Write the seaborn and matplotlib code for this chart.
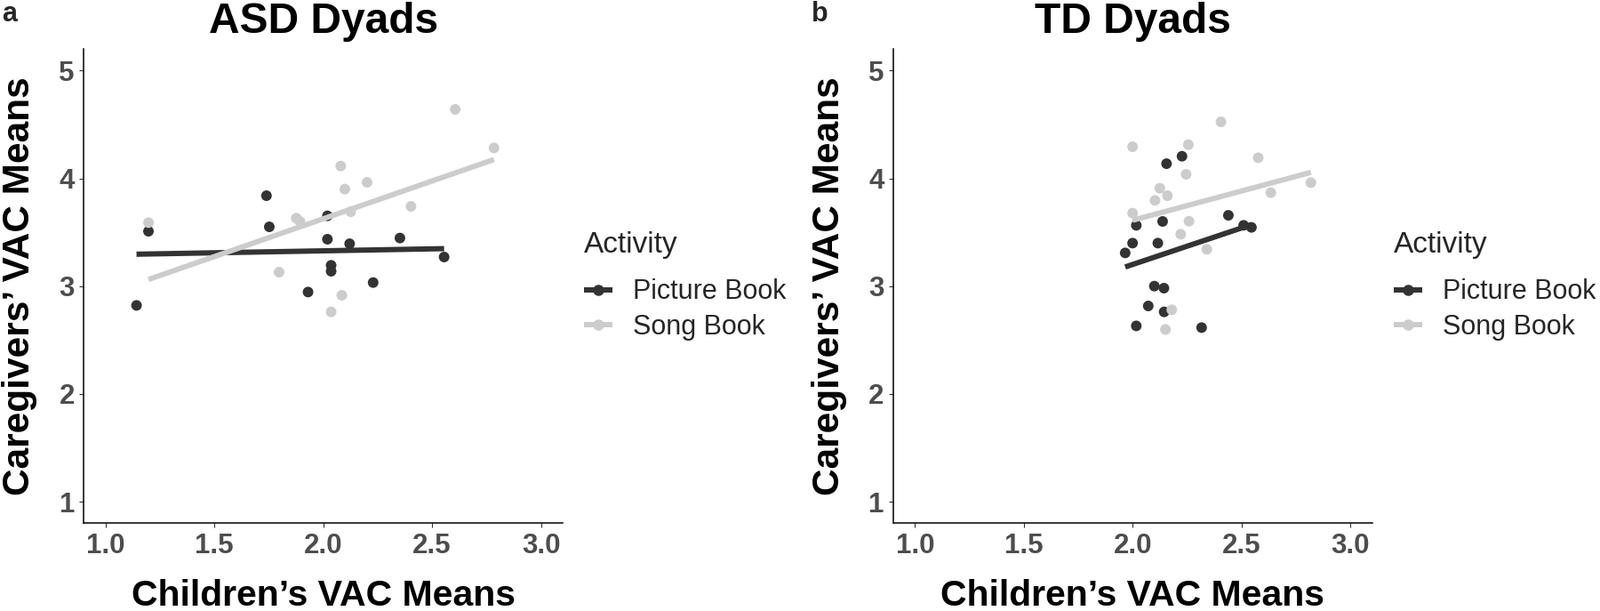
import matplotlib
matplotlib.use("Agg")
import matplotlib.pyplot as plt
from matplotlib.lines import Line2D
import seaborn as sns
import pandas as pd

sns.set_style("white")
plt.rcParams['font.family'] = ['Liberation Sans', 'DejaVu Sans']

# ---- data ----
groups = ["Picture Book", "Song Book"]
panel_titles = ["ASD Dyads", "TD Dyads"]
panel_letters = ["a", "b"]

asd_picture_x = [1.142, 1.197, 1.739, 1.752, 2.019, 2.019, 2.121, 2.352, 2.036, 2.036, 1.930, 2.229, 2.555]
asd_picture_y = [2.821, 3.509, 3.839, 3.550, 3.652, 3.435, 3.393, 3.446, 3.193, 3.138, 2.945, 3.033, 3.270]
asd_song_x = [1.197, 1.876, 1.893, 1.797, 2.080, 2.099, 2.201, 2.126, 2.403, 2.085, 2.036, 2.606, 2.784]
asd_song_y = [3.589, 3.630, 3.600, 3.129, 4.114, 3.900, 3.963, 3.690, 3.740, 2.915, 2.761, 4.640, 4.282]

td_picture_x = [2.155, 2.226, 2.016, 2.137, 1.999, 2.115, 1.965, 2.439, 2.509, 2.545, 2.099, 2.143, 2.071, 2.144, 2.016, 2.316]
td_picture_y = [4.136, 4.205, 3.564, 3.600, 3.399, 3.399, 3.308, 3.657, 3.564, 3.545, 3.000, 2.981, 2.816, 2.761, 2.631, 2.615]
td_song_x = [1.999, 2.255, 2.405, 2.576, 2.245, 2.124, 2.159, 2.102, 1.999, 2.634, 2.818, 2.258, 2.220, 2.340, 2.179, 2.150]
td_song_y = [4.293, 4.312, 4.524, 4.191, 4.037, 3.908, 3.839, 3.795, 3.677, 3.867, 3.960, 3.602, 3.481, 3.341, 2.780, 2.598]

x_ticks = [1.0, 1.5, 2.0, 2.5, 3.0]
y_ticks = [1, 2, 3, 4, 5]

palette = {"Picture Book": "#333333", "Song Book": "#CCCCCC"}


def make_df(px, py, sx, sy):
    return pd.DataFrame({
        "child": px + sx,
        "caregiver": py + sy,
        "Activity": ["Picture Book"] * len(px) + ["Song Book"] * len(sx),
    })


dfs = [make_df(asd_picture_x, asd_picture_y, asd_song_x, asd_song_y),
       make_df(td_picture_x, td_picture_y, td_song_x, td_song_y)]

W, H = 1800, 687
fig = plt.figure(figsize=(W / 100, H / 100), dpi=100)

ax_left_px = [94.3, 1005.0]
ax_w_px = 538.8
ax_top_px, ax_bot_px = 55.1, 588.3
legend_x_px = [657, 1568]
letter_x_px = [2, 913]

for i, df in enumerate(dfs):
    ax = fig.add_axes([ax_left_px[i] / W, (H - ax_bot_px) / H,
                       ax_w_px / W, (ax_bot_px - ax_top_px) / H])
    sns.scatterplot(data=df, x="child", y="caregiver", hue="Activity",
                    hue_order=groups, palette=palette, s=74, linewidth=0,
                    ax=ax, legend=False, zorder=2)
    for g in groups:
        sub = df[df["Activity"] == g]
        sns.regplot(data=sub, x="child", y="caregiver", scatter=False, ci=None,
                    truncate=True, color=palette[g], ax=ax,
                    line_kws={"lw": 4.3, "solid_capstyle": "butt", "zorder": 3})

    ax.set_xlim(0.9, 3.1)
    ax.set_ylim(0.8, 5.2)
    ax.set_xticks(x_ticks)
    ax.set_xticklabels([f"{t:.1f}" for t in x_ticks])
    ax.set_yticks(y_ticks)
    ax.set_yticklabels([str(t) for t in y_ticks])
    for side in ["top", "right"]:
        ax.spines[side].set_visible(False)
    for side in ["left", "bottom"]:
        ax.spines[side].set_color("black")
        ax.spines[side].set_linewidth(1.1)
    ax.tick_params(axis="both", which="major", length=3.5, width=0.8,
                   color="#333333", labelsize=22.5, labelcolor="#4D4D4D", pad=4,
                   left=True, bottom=True)
    for lab in ax.get_xticklabels() + ax.get_yticklabels():
        lab.set_fontweight("bold")

    ax.set_xlabel("Children\u2019s VAC Means", fontsize=29.5, fontweight="bold", color="black")
    ax.set_ylabel("Caregivers\u2019 VAC Means", fontsize=30.5, fontweight="bold", color="black")
    ax.xaxis.set_label_coords(0.5, -0.118)
    ax.yaxis.set_label_coords(-0.097, 0.5)

    ax.set_title(panel_titles[i], fontsize=34.5, fontweight="bold", color="black",
                 y=(ax_bot_px - 36.7) / (ax_bot_px - ax_top_px), pad=0)

    fig.text(letter_x_px[i] / W, 1 - 24 / H, panel_letters[i], fontsize=22,
             fontweight="bold", va="baseline", ha="left")

    handles = [Line2D([], [], color=palette[g], lw=4.3, marker="o", markersize=8,
                      solid_capstyle="butt") for g in groups]
    leg = ax.legend(handles, groups, title="Activity", loc="upper left",
                    bbox_to_anchor=(legend_x_px[i] / W, 1 - 260 / H),
                    bbox_transform=fig.transFigure, frameon=False,
                    borderpad=0, borderaxespad=0, fontsize=22, title_fontsize=24,
                    handlelength=1.05, handletextpad=0.75, labelspacing=0.32,
                    alignment="left")
    leg._legend_box.sep = 16

fig.savefig("out.png", dpi=100, facecolor="white")
